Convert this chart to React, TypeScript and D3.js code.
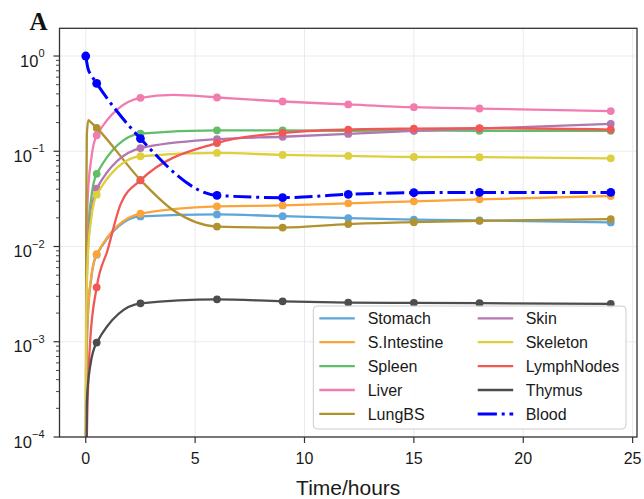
import React from 'react';
import * as d3 from 'd3';

// ---- data ----
const markerTimes = [0.5, 2.5, 6, 9, 12, 15, 18, 24];
const bloodTimes = [0, 0.5, 2.5, 6, 9, 12, 15, 18, 24];

const stomach = [0.0082, 0.0207, 0.0217, 0.0208, 0.0199, 0.0192, 0.0188, 0.0179];
const sIntestine = [0.0083, 0.0221, 0.0264, 0.027, 0.0284, 0.0298, 0.0313, 0.0339];
const spleen = [0.058, 0.153, 0.166, 0.166, 0.164, 0.165, 0.164, 0.164];
const liver = [0.147, 0.364, 0.367, 0.333, 0.31, 0.29, 0.281, 0.264];
const lungBS = [0.176, 0.05, 0.0162, 0.0158, 0.0172, 0.018, 0.0186, 0.0194];
const skin = [0.0405, 0.108, 0.134, 0.142, 0.152, 0.164, 0.173, 0.194];
const skeleton = [0.035, 0.0886, 0.096, 0.0915, 0.0894, 0.087, 0.0866, 0.0844];
const lymphNodes = [0.00373, 0.0495, 0.122, 0.156, 0.169, 0.173, 0.175, 0.169];
const thymus = [0.00098, 0.00253, 0.00279, 0.00266, 0.00258, 0.00256, 0.00254, 0.0025];
const blood = [1.0, 0.516, 0.136, 0.0344, 0.0326, 0.0353, 0.0367, 0.037, 0.037];

// extra points on the drawn curves between markers
const stomachCurve: [number, number][] = [[0, 1e-6], [0.02, 0.0004], [0.1, 0.0019], [0.25, 0.0046]];
const sIntestineCurve: [number, number][] = [[0, 1e-6], [0.02, 0.0004], [0.1, 0.002], [0.25, 0.0048]];
const spleenCurve: [number, number][] = [[0, 1e-6], [0.02, 0.0028], [0.1, 0.0137], [0.25, 0.032]];
const liverCurve: [number, number][] = [[0, 1e-6], [0.02, 0.0074], [0.1, 0.0355], [0.25, 0.0825], [4, 0.39]];
const lungBSCurve: [number, number][] = [[0, 1e-6], [0.02, 0.02], [0.05, 0.15], [0.12, 0.212], [0.25, 0.2], [4, 0.024]];
const skinCurve: [number, number][] = [[0, 1e-6], [0.02, 0.0019], [0.1, 0.0093], [0.25, 0.022]];
const skeletonCurve: [number, number][] = [[0, 1e-6], [0.02, 0.0017], [0.1, 0.0083], [0.25, 0.0195]];
const lymphNodesCurve: [number, number][] = [[0, 1e-7], [0.05, 0.0001], [0.2, 0.001], [1, 0.0092], [1.6, 0.028]];
const thymusCurve: [number, number][] = [[0, 1e-6], [0.05, 0.00023], [0.2, 0.00055]];
const bloodCurve: [number, number][] = [[0.1, 0.743], [0.25, 0.632]];

const xTicks = [0, 5, 10, 15, 20, 25];
const yTickExps = [0, -1, -2, -3, -4];
const xLabel = 'Time/hours';
const panelLabel = 'A';

type Series = {
  name: string;
  color: string;
  times: number[];
  values: number[];
  curve: [number, number][];
  dashed?: boolean;
};

const series: Series[] = [
  { name: 'Stomach', color: '#5DA5DA', times: markerTimes, values: stomach, curve: stomachCurve },
  { name: 'S.Intestine', color: '#FAA43A', times: markerTimes, values: sIntestine, curve: sIntestineCurve },
  { name: 'Spleen', color: '#60BD68', times: markerTimes, values: spleen, curve: spleenCurve },
  { name: 'Liver', color: '#F17CB0', times: markerTimes, values: liver, curve: liverCurve },
  { name: 'LungBS', color: '#B2912F', times: markerTimes, values: lungBS, curve: lungBSCurve },
  { name: 'Skin', color: '#B276B2', times: markerTimes, values: skin, curve: skinCurve },
  { name: 'Skeleton', color: '#DECF3F', times: markerTimes, values: skeleton, curve: skeletonCurve },
  { name: 'LymphNodes', color: '#F15854', times: markerTimes, values: lymphNodes, curve: lymphNodesCurve },
  { name: 'Thymus', color: '#4D4D4D', times: markerTimes, values: thymus, curve: thymusCurve },
  { name: 'Blood', color: '#0000FF', times: bloodTimes, values: blood, curve: bloodCurve, dashed: true },
];

const W = 644;
const H = 499;
const L = 59.5, R = 637, T = 28.3, B = 437;
const FONT = "'Liberation Sans', Arial, Helvetica, sans-serif";

export default function App() {
  const x = d3.scaleLinear().domain([-1.2, 25.2]).range([L, R]);
  const y = d3.scaleLog().domain([1e-4, Math.pow(10, 0.291)]).range([B, T]);

  const line = d3
    .line<[number, number]>()
    .x((d) => x(d[0]))
    .y((d) => y(d[1]))
    .curve(d3.curveMonotoneX);

  const minorTicks: number[] = [];
  for (let e = -4; e <= 0; e++) {
    for (let m = 2; m <= 9; m++) {
      const v = m * Math.pow(10, e);
      if (v <= y.domain()[1]) minorTicks.push(v);
    }
  }

  const dash = '18,4.8,3,4.8';

  const legendRows = 5;
  const legendX = 313.3, legendY = 306, legendW = 312.7, legendH = 123;

  return (
    <svg
      width={W}
      height={H}
      style={{ position: 'absolute', left: 0, top: 0, background: '#fff' }}
      fontFamily={FONT}
    >
      <defs>
        <clipPath id="plotClip">
          <rect x={L} y={T} width={R - L} height={B - T} />
        </clipPath>
      </defs>
      <rect x={0} y={0} width={W} height={H} fill="#fff" />

      {/* grid */}
      <g stroke="#ebebeb" strokeWidth={1}>
        {xTicks.map((t) => (
          <line key={'gx' + t} x1={x(t)} x2={x(t)} y1={T} y2={B} />
        ))}
        {yTickExps.map((e) => (
          <line key={'gy' + e} x1={L} x2={R} y1={y(Math.pow(10, e))} y2={y(Math.pow(10, e))} />
        ))}
      </g>

      {/* series */}
      <g clipPath="url(#plotClip)">
        {series.map((s) => {
          const pts: [number, number][] = s.times.map((t, i) => [t, s.values[i]] as [number, number]);
          const all = [...pts, ...s.curve].sort((a, b) => a[0] - b[0]);
          return (
            <g key={s.name}>
              <path
                d={line(all) || ''}
                fill="none"
                stroke={s.color}
                strokeWidth={s.dashed ? 3 : 2.3}
                strokeDasharray={s.dashed ? dash : undefined}
                strokeLinejoin="round"
              />
              {pts.map((p, i) => (
                <circle key={i} cx={x(p[0])} cy={y(p[1])} r={s.dashed ? 4.4 : 3.9} fill={s.color} />
              ))}
            </g>
          );
        })}
      </g>

      {/* spines */}
      <rect x={L} y={T} width={R - L} height={B - T} fill="none" stroke="#333" strokeWidth={1.3} />

      {/* x ticks */}
      {xTicks.map((t) => (
        <g key={'xt' + t}>
          <line x1={x(t)} x2={x(t)} y1={B} y2={B + 6} stroke="#333" strokeWidth={1.2} />
          <text x={x(t)} y={463.5} textAnchor="middle" fontSize={16} fill="#1a1a1a">
            {t}
          </text>
        </g>
      ))}

      {/* y ticks */}
      {minorTicks.map((v, i) => (
        <line key={'ym' + i} x1={L - 3.5} x2={L} y1={y(v)} y2={y(v)} stroke="#333" strokeWidth={0.9} />
      ))}
      {yTickExps.map((e) => {
        const yy = y(Math.pow(10, e));
        return (
          <g key={'yt' + e}>
            <line x1={L - 6} x2={L} y1={yy} y2={yy} stroke="#333" strokeWidth={1.2} />
            <text x={44.5} y={yy + 10.5} textAnchor="end" fontSize={16.5} fill="#1a1a1a">
              <tspan>10</tspan>
              <tspan dy={-9.5} fontSize={11}>
                {e < 0 ? '\u2212' + Math.abs(e) : String(e)}
              </tspan>
            </text>
          </g>
        );
      })}

      {/* axis label */}
      <text x={(L + R) / 2} y={495} textAnchor="middle" fontSize={21} fill="#1a1a1a">
        {xLabel}
      </text>

      {/* panel label */}
      <text x={29.5} y={29.5} fontSize={25} fontWeight="bold" fontFamily="'Liberation Serif', 'Times New Roman', serif" fill="#111">
        {panelLabel}
      </text>

      {/* legend */}
      <g>
        <rect
          x={legendX}
          y={legendY}
          width={legendW}
          height={legendH}
          rx={4}
          fill="#fff"
          fillOpacity={0.85}
          stroke="#cccccc"
          strokeWidth={1}
        />
        {series.map((s, i) => {
          const col = Math.floor(i / legendRows);
          const row = i % legendRows;
          const hx = col === 0 ? 319.3 : 477.7;
          const tx = col === 0 ? 367.7 : 525.7;
          const ry = 318.3 + row * 23.9;
          return (
            <g key={'lg' + s.name}>
              <line
                x1={hx}
                x2={hx + 35.5}
                y1={ry}
                y2={ry}
                stroke={s.color}
                strokeWidth={s.dashed ? 3 : 2.3}
                strokeDasharray={s.dashed ? '19.2,4.8,3,4.8' : undefined}
              />
              <text x={tx} y={ry + 6} fontSize={16} fill="#1a1a1a">
                {s.name}
              </text>
            </g>
          );
        })}
      </g>
    </svg>
  );
}
